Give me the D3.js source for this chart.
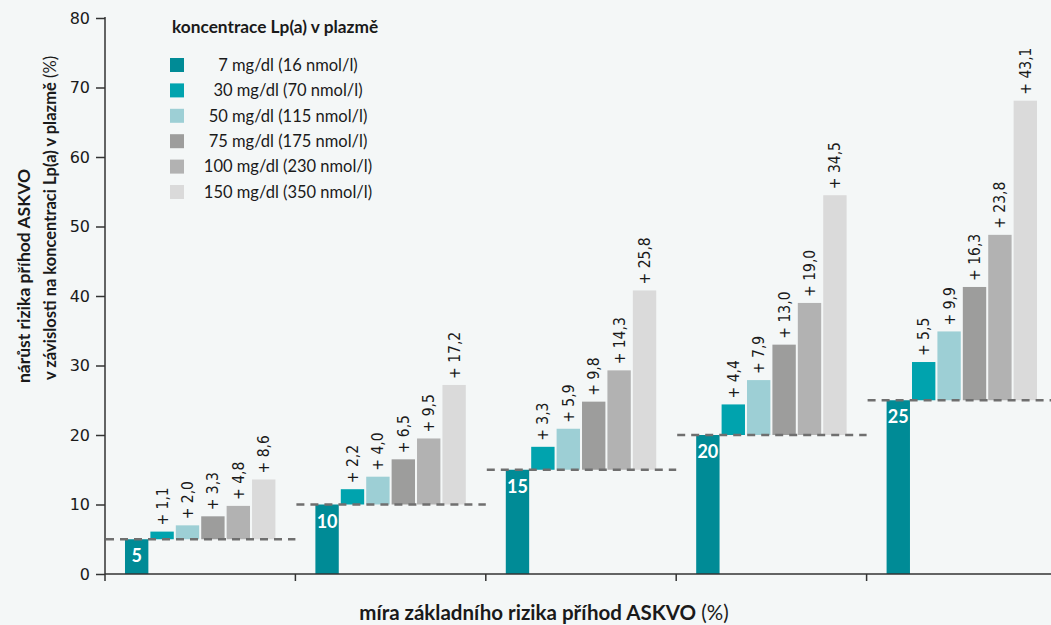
<!DOCTYPE html>
<html>
<head>
<meta charset="utf-8">
<script src="https://cdn.jsdelivr.net/npm/d3@7"></script>
<style>
  html, body { margin: 0; padding: 0; background: #f4f7f7; }
  svg { display: block; }
</style>
</head>
<body>
<svg id="chart" width="1051" height="625"></svg>
<script>
// Lp(a) risk chart - grouped bars with baseline + increments
const groups = ["5", "10", "15", "20", "25"];
const baseRisk = [5, 10, 15, 20, 25];
const seriesNames = [
  "7 mg/dl (16 nmol/l)",
  "30 mg/dl (70 nmol/l)",
  "50 mg/dl (115 nmol/l)",
  "75 mg/dl (175 nmol/l)",
  "100 mg/dl (230 nmol/l)",
  "150 mg/dl (350 nmol/l)"
];
// increments over baseline for 30, 50, 75, 100, 150 mg/dl
const increments = [
  [1.1, 2.0, 3.3, 4.8, 8.6],
  [2.2, 4.0, 6.5, 9.5, 17.2],
  [3.3, 5.9, 9.8, 14.3, 25.8],
  [4.4, 7.9, 13.0, 19.0, 34.5],
  [5.5, 9.9, 16.3, 23.8, 43.1]
];
const yTicks = [0, 10, 20, 30, 40, 50, 60, 70, 80];
const colors = ["#008b96", "#00a3ae", "#9dcfd5", "#9d9d9c", "#b2b2b2", "#dadada"];

const svg = d3.select("#chart");
const margin = { top: 18, left: 105, bottom: 51 };
const H = +svg.attr("height");
const plotBottom = H - margin.bottom;

const x0 = d3.scaleBand().domain(groups).range([margin.left, 1057]).padding(0);
const bw = x0.bandwidth();
const x1 = d3.scaleBand().domain(d3.range(seriesNames.length))
  .range([bw * 0.105, bw * 0.895]).paddingInner(0.08);
const y = d3.scaleLinear().domain([0, 80]).range([plotBottom, margin.top]);
const color = d3.scaleOrdinal().domain(d3.range(6)).range(colors);

const fmt = v => "+ " + d3.format(".1f")(v).replace(".", ",");

// build bar records
const bars = [];
groups.forEach((g, gi) => {
  bars.push({ g, s: 0, y0: 0, y1: baseRisk[gi], base: true, label: String(baseRisk[gi]) });
  increments[gi].forEach((v, si) => {
    bars.push({ g, s: si + 1, y0: baseRisk[gi], y1: baseRisk[gi] + v, base: false, label: fmt(v) });
  });
});

// bars
svg.append("g").selectAll("rect").data(bars).join("rect")
  .attr("x", d => x0(d.g) + x1(d.s))
  .attr("width", x1.bandwidth())
  .attr("y", d => y(d.y1))
  .attr("height", d => y(d.y0) - y(d.y1))
  .attr("fill", d => color(d.s));

// dashed baseline per group
svg.append("g").selectAll("line").data(groups).join("line")
  .attr("x1", g => x0(g) + 1)
  .attr("x2", g => x0(g) + bw)
  .attr("y1", (g, i) => y(baseRisk[i]))
  .attr("y2", (g, i) => y(baseRisk[i]))
  .attr("stroke", "#6f6f6f")
  .attr("stroke-width", 2.5)
  .attr("stroke-dasharray", "8,6");

// increment labels (rotated)
svg.append("g").selectAll("text").data(bars.filter(d => !d.base)).join("text")
  .attr("transform", d => `translate(${x0(d.g) + x1(d.s) + x1.bandwidth() / 2 + 5.5},${y(d.y1) - 6}) rotate(-90)`)
  .attr("font-family", "DejaVu Sans Condensed, DejaVu Sans, sans-serif")
  .attr("font-size", 15.5)
  .attr("fill", "#1a1a1a")
  .text(d => d.label);

// base labels
svg.append("g").selectAll("text").data(bars.filter(d => d.base)).join("text")
  .attr("x", d => x0(d.g) + x1(d.s) + x1.bandwidth() / 2)
  .attr("y", d => y(d.y1) + 23)
  .attr("text-anchor", "middle")
  .attr("font-family", "Lato, sans-serif")
  .attr("font-weight", "bold")
  .attr("font-size", 18)
  .attr("fill", "#fff")
  .text(d => d.label);

// y axis
const yAxis = svg.append("g")
  .attr("transform", `translate(${margin.left},0)`)
  .call(d3.axisLeft(y).tickValues(yTicks).tickSize(9).tickPadding(6))
  .call(g => g.select(".domain").remove());
yAxis.selectAll(".tick line").attr("stroke", "#333").attr("stroke-width", 1.5);
yAxis.selectAll(".tick text")
  .attr("font-family", "DejaVu Sans, sans-serif")
  .attr("font-size", 16)
  .attr("fill", "#1a1a1a");
svg.append("line")
  .attr("x1", margin.left).attr("x2", margin.left)
  .attr("y1", y(80) - 1).attr("y2", plotBottom + 7)
  .attr("stroke", "#333").attr("stroke-width", 1.5);

// x axis line + group ticks
svg.append("line")
  .attr("x1", margin.left).attr("x2", 1051)
  .attr("y1", plotBottom).attr("y2", plotBottom)
  .attr("stroke", "#333").attr("stroke-width", 1.5);
svg.append("g").selectAll("line").data(groups.slice(1)).join("line")
  .attr("x1", g => x0(g)).attr("x2", g => x0(g))
  .attr("y1", plotBottom).attr("y2", plotBottom + 7)
  .attr("stroke", "#333").attr("stroke-width", 1.5);

// x axis title
const xt = svg.append("text")
  .attr("x", 544).attr("y", 620)
  .attr("text-anchor", "middle")
  .attr("font-family", "Lato, sans-serif")
  .attr("font-size", 20.5)
  .attr("fill", "#1a1a1a");
xt.append("tspan").attr("font-weight", "bold").text("míra základního rizika příhod ASKVO");
xt.append("tspan").text(" (%)");

// y axis title (two lines)
svg.append("text")
  .attr("transform", "translate(30,276) rotate(-90)")
  .attr("text-anchor", "middle")
  .attr("font-family", "Lato, sans-serif")
  .attr("font-weight", "bold")
  .attr("font-size", 17.5)
  .attr("fill", "#1a1a1a")
  .text("nárůst rizika příhod ASKVO");
const yt2 = svg.append("text")
  .attr("transform", "translate(56,218) rotate(-90)")
  .attr("text-anchor", "middle")
  .attr("font-family", "Lato, sans-serif")
  .attr("font-size", 16.5)
  .attr("fill", "#1a1a1a");
yt2.append("tspan").attr("font-weight", "bold").text("v závislosti na koncentraci Lp(a) v plazmě");
yt2.append("tspan").text(" (%)");

// legend
const legend = svg.append("g");
legend.append("text")
  .attr("x", 172).attr("y", 33)
  .attr("font-family", "Lato, sans-serif")
  .attr("font-weight", "bold")
  .attr("font-size", 17.3)
  .attr("fill", "#1a1a1a")
  .text("koncentrace Lp(a) v plazmě");
const rows = legend.selectAll("g.row").data(seriesNames).join("g")
  .attr("class", "row")
  .attr("transform", (d, i) => `translate(170,${65 + i * 25.4})`);
rows.append("rect")
  .attr("x", 0).attr("y", -7).attr("width", 14).attr("height", 14)
  .attr("fill", (d, i) => color(i));
rows.append("text")
  .attr("x", 118).attr("y", 0).attr("dy", "0.35em")
  .attr("text-anchor", "middle")
  .attr("font-family", "Lato, sans-serif")
  .attr("font-size", 16.5)
  .attr("fill", "#1a1a1a")
  .text(d => d);
</script>
</body>
</html>
